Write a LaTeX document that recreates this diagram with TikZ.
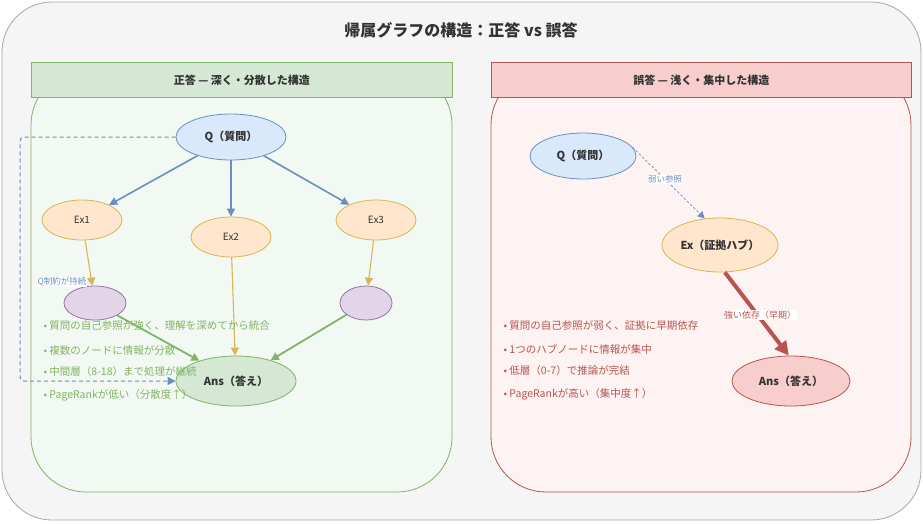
\documentclass[tikz,border=0pt]{standalone}
\usepackage{fontspec}
\setmainfont{Noto Sans CJK JP}
\usetikzlibrary{arrows.meta,shapes.geometric}
\definecolor{bluS}{HTML}{6C8EBF}\definecolor{bluF}{HTML}{DAE8FC}
\definecolor{grnS}{HTML}{82B366}\definecolor{grnF}{HTML}{D5E8D4}
\definecolor{yelS}{HTML}{D6B656}\definecolor{yelF}{HTML}{FFE6CC}
\definecolor{purS}{HTML}{9673A6}\definecolor{purF}{HTML}{E1D5E7}
\definecolor{redS}{HTML}{B85450}\definecolor{redF}{HTML}{F8CECC}
\definecolor{txt}{HTML}{333333}
\begin{document}
\begin{tikzpicture}[x=1pt,y=-1pt,
  el/.style={ellipse,draw,line width=0.8pt,inner sep=0pt},
  lbl/.style={font=\fontsize{11}{12}\selectfont\bfseries,text=txt},
  sml/.style={font=\fontsize{10}{11}\selectfont,text=txt},
  arr/.style={-{Triangle[length=8pt,width=8pt]}},
  bul/.style={anchor=west,font=\fontsize{10.5}{11}\selectfont}]
\useasboundingbox (0,0) rectangle (923,523);
\draw[rounded corners=50pt,fill=black!4,draw=black!35,line width=0.8pt] (2,2) rectangle (921,520);
\node[font=\fontsize{16}{18}\selectfont\bfseries,text=txt] (title) at (461,30) {帰属グラフの構造：正答 vs 誤答};
% left panel
\draw[rounded corners=55pt,fill=grnF!30,draw=grnS,line width=0.8pt] (31,70) rectangle (452,492);
\node[draw=grnS,fill=grnF,line width=0.8pt,minimum width=421pt,minimum height=35pt,anchor=north west,lbl] (lh) at (31,62) {正答 — 深く・分散した構造};
% right panel
\draw[rounded corners=55pt,fill=redF!25,draw=redS,line width=0.8pt] (491,70) rectangle (911,492);
\node[draw=redS,fill=redF,line width=0.8pt,minimum width=420pt,minimum height=35pt,anchor=north west,lbl] (rh) at (491,62) {誤答 — 浅く・集中した構造};
% left nodes
\node[el,draw=bluS,fill=bluF,minimum width=110pt,minimum height=46pt,lbl] (q) at (231,137) {Q（質問）};
\node[el,draw=yelS,fill=yelF,minimum width=80pt,minimum height=40pt,sml] (e1) at (82,220) {Ex1};
\node[el,draw=yelS,fill=yelF,minimum width=80pt,minimum height=40pt,sml] (e2) at (231,237) {Ex2};
\node[el,draw=yelS,fill=yelF,minimum width=80pt,minimum height=40pt,sml] (e3) at (376,220) {Ex3};
\node[el,draw=purS,fill=purF,minimum width=62pt,minimum height=34pt] (p1) at (95,303) {};
\node[el,draw=purS,fill=purF,minimum width=52pt,minimum height=34pt] (p2) at (366,303) {};
\node[el,draw=grnS,fill=grnF,minimum width=120pt,minimum height=50pt,lbl] (a) at (236,381) {Ans（答え）};
\foreach \t in {e1,e2,e3}\draw[arr,draw=bluS,line width=1.6pt] (q) -- (\t);
\draw[arr,draw=yelS,line width=1.1pt] (e1) -- (p1);
\draw[arr,draw=yelS,line width=1.1pt] (e2) -- (a);
\draw[arr,draw=yelS,line width=1.1pt] (e3) -- (p2);
\draw[arr,draw=grnS,line width=1.8pt] (p1) -- (a);
\draw[arr,draw=grnS,line width=1.8pt] (p2) -- (a);
\coordinate (d1) at (20,137);
\coordinate (d2) at (20,381);
\draw[arr,draw=bluS,line width=1pt,dash pattern=on 4pt off 3pt,rounded corners=4pt] (q.west) -- (d1) -- (d2) -- (a.west);
\node[fill=white,inner sep=0.5pt,font=\fontsize{8.5}{9}\selectfont,text=bluS] (qc) at (62,282) {Q制約が持続};
\foreach \y/\s in {326/質問の自己参照が強く、理解を深めてから統合,350/複数のノードに情報が分散,372/中間層（8-18）まで処理が継続,395/PageRankが低い（分散度↑）}
  \node[bul,text=grnS] at (40,\y) {\textbullet\ \s};
% right nodes
\node[el,draw=bluS,fill=bluF,minimum width=106pt,minimum height=46pt,lbl] (rq) at (583,156) {Q（質問）};
\node[el,draw=yelS,fill=yelF,minimum width=116pt,minimum height=54pt,lbl] (rx) at (720,245) {Ex（証拠ハブ）};
\node[el,draw=redS,fill=redF,minimum width=118pt,minimum height=50pt,lbl] (ra) at (791,381) {Ans（答え）};
\draw[-{Triangle[length=7pt,width=7pt]},draw=bluS,line width=0.7pt,dash pattern=on 2.5pt off 2pt] (rq.10) -- (rx.120) node[pos=0.45,fill=white,inner sep=0.5pt,font=\fontsize{8.5}{9}\selectfont,text=bluS] (wl) {弱い参照};
\draw[-{Triangle[length=14pt,width=14pt]},draw=redS,line width=4pt] (rx.-80) -- (ra.95);
\node[fill=white,inner sep=0.5pt,font=\fontsize{9}{10}\selectfont,text=redS] (sl) at (760,315) {強い依存（早期）};
\foreach \y/\s in {326/質問の自己参照が弱く、証拠に早期依存,349/1つのハブノードに情報が集中,371/低層（0-7）で推論が完結,394/PageRankが高い（集中度↑）}
  \node[bul,text=redS] at (500,\y) {\textbullet\ \s};
\end{tikzpicture}
\end{document}
